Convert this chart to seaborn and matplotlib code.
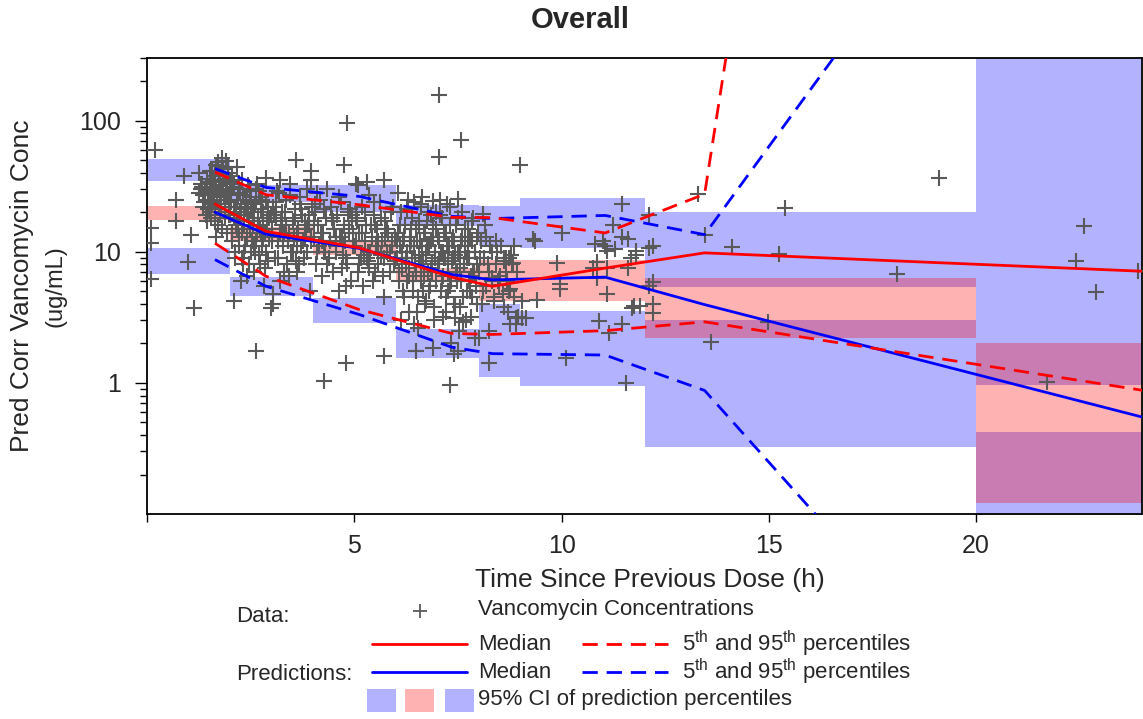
import numpy as np
import pandas as pd
import matplotlib
matplotlib.use("Agg")
import matplotlib.pyplot as plt
import seaborn as sns
from matplotlib.ticker import LogLocator, NullFormatter, FixedLocator, FixedFormatter
from matplotlib.patches import Rectangle

# ---------------- data ----------------
title = "Overall"
x_label = "Time Since Previous Dose (h)"
y_label1 = "Pred Corr Vancomycin Conc"
y_label2 = "(ug/mL)"

# bin edges (h) used for the prediction-interval bands
bin_edges = [0, 2, 4, 6, 8, 9, 12, 20, 24]
# 95% CI of predicted 5th percentile
p05_ci_lo = [6.76, 4.6, 2.86, 1.55, 1.10, 0.944, 0.324, 0.05]
p05_ci_hi = [10.7, 6.4, 4.44, 2.56, 3.98, 3.52, 2.99, 0.423]
# 95% CI of predicted median
med_ci_lo = [17.5, 12.0, 9.5, 5.95, 4.19, 4.19, 2.2, 0.122]
med_ci_hi = [22.2, 15.5, 12.0, 7.5, 8.7, 8.7, 6.35, 2.0]
# 95% CI of predicted 95th percentile
p95_ci_lo = [34.8, 24.0, 20.0, 15.6, 11.0, 10.7, 5.35, 0.96]
p95_ci_hi = [51.2, 32.0, 32.0, 22.9, 22.2, 25.9, 20.1, 1000.0]

# bin midpoints (median time in bin) for the percentile lines
bin_time = [1.64, 2.87, 5.12, 7.35, 8.33, 11.05, 13.45, 24.5]
obs_median = [23.1, 14.3, 10.7, 6.4, 5.45, 7.5, 9.8, 6.99]
obs_p05 = [11.6, 6.5, 3.62, 2.38, 2.34, 2.5, 2.92, 0.83]
obs_p95 = [40.5, 27.2, 22.8, 18.3, 18.2, 13.9, 27.5, 6e23]
pred_median = [20.0, 13.6, 10.6, 6.7, 6.1, 6.4, 3.95, 0.50]
pred_p05 = [8.7, 5.45, 3.32, 1.87, 1.67, 1.63, 0.875, 1.1e-4]
pred_p95 = [43.0, 30.9, 26.4, 18.6, 17.9, 18.9, 13.5, 8.3e5]

# observed concentrations (time, conc)
obs_time = [
    0.20, 0.09, 0.09, 0.09, 0.70, 0.69, 1.05, 1.00, 1.13, 0.90, 1.26, 1.33, 1.66, 1.82, 1.90, 1.57,
    1.25, 1.30, 1.35, 1.40, 1.42, 1.45, 1.48, 1.50, 1.52, 1.55, 1.57, 1.60, 1.62, 1.65, 1.68, 1.70,
    1.72, 1.75, 1.78, 1.80, 1.82, 1.85, 1.88, 1.90, 1.92, 1.95, 1.98, 1.33, 1.44, 1.58, 1.63, 1.73,
    1.83, 1.93, 1.38, 1.53, 1.67, 1.77, 1.87, 1.97, 1.47, 1.61, 1.71, 1.81, 1.91,
    2.02, 2.05, 2.08, 2.10, 2.12, 2.15, 2.18, 2.20, 2.22, 2.25, 2.28, 2.30, 2.32, 2.35, 2.38, 2.40,
    2.42, 2.45, 2.48, 2.50, 2.52, 2.55, 2.58, 2.60, 2.62, 2.65, 2.68, 2.70, 2.72, 2.75, 2.78, 2.80,
    2.82, 2.85, 2.88, 2.90, 2.92, 2.95, 2.98, 2.04, 2.14, 2.24, 2.34, 2.44, 2.54, 2.64, 2.74, 2.84,
    2.94, 2.17, 2.37, 2.57, 2.77, 2.27, 2.67,
    3.02, 3.05, 3.08, 3.12, 3.15, 3.18, 3.22, 3.25, 3.28, 3.32, 3.35, 3.38, 3.42, 3.45, 3.48, 3.52,
    3.55, 3.58, 3.62, 3.65, 3.68, 3.72, 3.75, 3.78, 3.82, 3.85, 3.88, 3.92, 3.95, 3.98, 3.10, 3.30,
    3.50, 3.70, 3.90, 3.20, 3.40, 3.60, 3.80, 3.03,
    4.02, 4.05, 4.08, 4.12, 4.15, 4.18, 4.22, 4.25, 4.28, 4.32, 4.35, 4.38, 4.42, 4.45, 4.48, 4.52,
    4.55, 4.58, 4.62, 4.65, 4.68, 4.72, 4.75, 4.78, 4.82, 4.85, 4.88, 4.92, 4.95, 4.98, 4.10, 4.30,
    4.50, 4.70, 4.90,
    5.02, 5.05, 5.08, 5.12, 5.15, 5.18, 5.22, 5.25, 5.28, 5.32, 5.35, 5.38, 5.42, 5.45, 5.48, 5.52,
    5.55, 5.58, 5.62, 5.65, 5.68, 5.72, 5.75, 5.78, 5.82, 5.85, 5.88, 5.92, 5.95, 5.98, 5.10, 5.30,
    5.50, 5.70, 5.90,
    6.02, 6.05, 6.08, 6.10, 6.12, 6.15, 6.18, 6.20, 6.22, 6.25, 6.28, 6.30, 6.32, 6.35, 6.38, 6.40,
    6.42, 6.45, 6.48, 6.50, 6.52, 6.55, 6.58, 6.60, 6.62, 6.65, 6.68, 6.70, 6.72, 6.75, 6.78, 6.80,
    6.82, 6.85, 6.88, 6.90, 6.92, 6.95, 6.98, 6.06, 6.16, 6.26, 6.36, 6.46, 6.56, 6.66, 6.76, 6.86,
    6.96, 6.44,
    7.02, 7.05, 7.08, 7.10, 7.12, 7.15, 7.18, 7.20, 7.22, 7.25, 7.28, 7.30, 7.32, 7.35, 7.38, 7.40,
    7.42, 7.45, 7.48, 7.50, 7.52, 7.55, 7.58, 7.60, 7.62, 7.65, 7.68, 7.70, 7.72, 7.75, 7.78, 7.80,
    7.82, 7.85, 7.88, 7.90, 7.92, 7.95, 7.98, 7.06, 7.16, 7.26, 7.36, 7.46, 7.56, 7.66, 7.76, 7.86,
    7.96, 7.33,
    8.02, 8.05, 8.08, 8.12, 8.15, 8.18, 8.22, 8.28, 8.32, 8.38, 8.45, 8.52, 8.62, 8.68, 8.72, 8.85,
    8.95, 8.75, 8.10, 8.42, 8.60, 8.80, 8.33, 8.50, 8.75, 9.05, 8.70, 8.90, 8.90, 8.26, 8.67, 8.58, 8.82,
    2.87, 3.59, 3.95, 3.95, 4.76, 4.83, 5.04, 5.31, 5.72, 7.05, 7.05, 7.58, 9.00, 7.50, 6.60, 6.90,
    2.10, 2.62, 3.03, 2.99, 4.28, 4.80, 5.72, 6.49, 7.30, 8.26, 10.10, 11.56, 8.00, 7.40, 7.50, 6.50, 6.90,
    9.35, 10.00, 9.90, 9.40, 9.05, 9.95, 10.85, 11.10, 10.90, 11.45, 11.30, 11.70, 11.80, 11.00, 11.45,
    11.25, 11.46, 11.04, 11.67, 11.60, 11.10, 10.75, 10.85, 9.95, 9.15, 11.15, 11.75, 11.90, 10.80,
    11.60, 11.80, 11.10, 9.30,
    12.10, 12.10, 12.10, 12.20, 12.20, 12.20, 12.20, 13.30, 13.45, 13.60, 14.10, 14.98, 15.25, 15.40,
    18.10, 19.10, 21.70, 22.40, 22.60, 22.90, 23.90,
    # second pass over the dense cloud
    1.51, 1.54, 1.59, 1.64, 1.69, 1.74, 1.79, 1.84, 1.89, 1.94, 1.99, 1.56, 1.66, 1.76, 1.86, 1.96,
    1.46, 1.36, 1.41, 1.31,
    2.01, 2.03, 2.06, 2.09, 2.11, 2.13, 2.16, 2.19, 2.21, 2.23, 2.26, 2.29, 2.31, 2.33, 2.36, 2.39,
    2.41, 2.43, 2.46, 2.49, 2.51, 2.53, 2.56, 2.59, 2.61, 2.63, 2.66, 2.69, 2.71, 2.73, 2.76, 2.79,
    2.81, 2.86, 2.91,
    3.01, 3.06, 3.11, 3.16, 3.21, 3.26, 3.31, 3.36, 3.41, 3.46, 3.51, 3.56, 3.61, 3.66, 3.71, 3.76,
    3.81, 3.86, 3.91, 3.96, 3.13, 3.43, 3.63, 3.83, 3.23,
    4.03, 4.11, 4.19, 4.27, 4.34, 4.41, 4.49, 4.57, 4.64, 4.71, 4.79, 4.87, 4.94, 5.03, 5.11, 5.19,
    5.27, 5.34, 5.41, 5.49, 5.57, 5.64, 5.71, 5.79, 5.87, 5.94, 4.23, 4.47, 4.73, 4.97, 5.23, 5.47,
    5.73, 5.97, 4.06, 4.56, 5.06, 5.56, 4.81, 5.36,
    6.03, 6.07, 6.11, 6.14, 6.17, 6.21, 6.24, 6.27, 6.31, 6.34, 6.37, 6.41, 6.43, 6.47, 6.51, 6.54,
    6.57, 6.61, 6.64, 6.67, 6.71, 6.74, 6.77, 6.81, 6.84, 6.87, 6.91, 6.94, 6.97, 7.01, 7.04, 7.07,
    7.11, 7.14, 7.17, 7.21, 7.24, 7.27, 7.31, 7.34, 7.37, 7.41, 7.44, 7.47, 7.51, 7.54, 7.57, 7.61,
    7.64, 7.67, 7.71, 7.74, 7.77, 7.81, 7.84, 7.87, 7.91, 7.94, 7.97, 6.13, 6.33, 6.53, 6.73, 6.93,
    7.13, 7.43, 7.63, 7.83, 6.63, 7.23,
    8.04, 8.11, 8.17, 8.24, 8.31, 8.36, 8.41, 8.47, 8.54, 8.61, 8.66, 8.73, 8.79, 8.86, 8.93,
]
obs_conc = [
    60, 15.2, 11.7, 6.2, 25, 17.0, 13.5, 8.4, 3.7, 37.6, 39.8, 32.6, 46, 51.5, 49, 41,
    28, 33, 22, 30, 19, 36, 25, 27, 41, 18, 31, 24, 35, 21, 45, 28,
    16, 38, 23, 30, 44, 26, 20, 33, 14, 40, 25, 31, 17, 27, 38, 22,
    43, 29, 24, 34, 13, 26, 36, 19, 21, 29, 48, 15, 27,
    24, 12, 31, 18, 9, 22, 15, 27, 11, 20, 35, 14, 8, 19, 25, 13,
    6.5, 17, 29, 10, 21, 16, 7, 23, 12, 33, 18, 9.5, 15, 26, 11, 20,
    5.5, 14, 24, 17, 8.5, 13, 19, 38, 16, 28, 10, 22, 12, 30, 14, 7.5,
    18, 44, 21, 11, 25, 6, 16,
    15, 22, 9, 18, 12, 28, 6, 16, 11, 20, 25, 8, 14, 33, 10, 17,
    13, 21, 7, 15, 26, 11, 19, 9, 13, 30, 16, 5, 12, 22, 18, 14,
    10, 23, 16, 35, 12, 8.5, 17, 4.8,
    13, 20, 8, 16, 11, 25, 6.5, 14, 10, 18, 30, 9, 12, 22, 7, 15,
    11, 19, 5, 13, 24, 9.5, 16, 12, 8, 20, 14, 6, 17, 11, 28, 10,
    15, 7.5, 21,
    11, 18, 7, 14, 9, 22, 5.5, 12, 16, 8.5, 27, 10, 13, 6, 19, 11,
    15, 8, 24, 9.5, 12, 4.5, 17, 10, 14, 7, 20, 11, 8, 13, 32, 9,
    16, 6.5, 12,
    9, 14, 6, 11, 20, 7.5, 12, 4.5, 16, 8, 10, 25, 6.5, 13, 9, 18,
    5, 11, 7, 15, 3.5, 9.5, 12, 22, 6, 8.5, 14, 4, 10, 17, 7, 11,
    5.5, 19, 8, 13, 3, 9, 15, 28, 10, 6, 12, 8, 16, 5, 11, 7.5,
    20, 2.8,
    8, 12, 5, 10, 18, 6.5, 9, 3.5, 14, 7, 11, 22, 5.5, 8.5, 13, 4,
    9.5, 16, 6, 10, 2.5, 7.5, 12, 20, 4.5, 8, 15, 3, 9, 11, 5, 13,
    6.5, 17, 7, 10, 2.2, 8, 14, 25, 9, 5, 12, 7, 3.8, 10, 6, 18,
    4, 2.0,
    7, 12, 4, 9, 16, 5.5, 8, 11, 6, 4.5, 10, 6.5, 8.5, 6, 9, 11,
    3.2, 2.8, 19.3, 12, 8.9, 8.0, 6.3, 5.6, 5.2, 4.2, 3.5, 3.1, 2.8, 2.48, 8.9, 4.75, 8.2,
    36.4, 50, 41, 35.5, 46, 96, 33, 34, 35.5, 158, 53, 71, 45.5, 25.4, 23, 24.2,
    4.2, 1.74, 3.97, 3.72, 1.04, 1.42, 1.6, 1.74, 0.96, 1.42, 1.55, 1.0, 2.2, 1.65, 1.74, 1.74, 1.84,
    12, 13.9, 8.2, 4.3, 3.1, 5.2, 8.4, 4.75, 2.95, 2.8, 10.4, 3.7, 9.5, 12, 23,
    15.9, 13, 11, 8.95, 7.5, 7.5, 7.5, 6.26, 5.65, 3.1, 2.4, 3.84, 3.84, 11.4,
    12.6, 10.1, 10.1, 12.4,
    19.2, 10.7, 5.45, 4.0, 3.4, 11, 5.9, 27.5, 13.3, 2.05, 10.8, 2.9, 9.6, 21.5,
    6.76, 36.4, 1.02, 8.55, 15.7, 4.94, 7.1,
    # second pass over the dense cloud
    20, 29, 35, 17, 25, 32, 22, 39, 18, 28, 34, 23, 31, 19, 26, 44,
    21, 27, 24, 30,
    19, 28, 14, 33, 22, 10, 25, 17, 30, 13, 21, 9, 27, 16, 11, 23,
    19, 32, 8, 15, 26, 12, 20, 18, 10, 24, 14, 29, 16, 8, 21, 13,
    17, 10, 22,
    12, 19, 24, 9, 14, 20, 7, 16, 12, 27, 10, 18, 14, 8, 21, 12,
    16, 10, 19, 13, 29, 6.5, 11, 15, 17,
    17, 10, 14, 21, 8, 12, 17, 10, 26, 13, 9, 15, 19, 12, 8, 14,
    20, 10, 16, 7, 12, 18, 9, 15, 10, 22, 12, 18, 11, 14, 9.5, 24,
    13, 8.5, 23, 13, 17, 11, 5.5, 7.5,
    12, 7, 16, 10, 5, 13, 9, 21, 7.5, 11, 15, 6, 24, 9, 12, 4.5,
    17, 8, 11, 6.5, 14, 9.5, 20, 5, 12, 7, 16, 10, 6, 13, 8.5, 19,
    6, 10, 14, 4.5, 11, 8, 16, 6, 9, 12, 4, 7, 18, 10, 6, 13,
    8, 11, 5, 15, 9, 3.2, 12, 7, 10, 5.5, 13, 3, 3.5, 2.6, 4.2, 3.8,
    3.2, 3.1, 2.9, 4.5, 26, 23,
    9, 5, 13, 7, 10, 4.2, 8, 6, 11, 3.8, 7, 5, 9.5, 4.5, 7,
]

# ---------------- figure ----------------
W, H = 1143, 719
sns.set_theme(style="ticks")
plt.rcParams["font.family"] = ["Liberation Sans", "DejaVu Sans"]
plt.rcParams["mathtext.fontset"] = "custom"
plt.rcParams["mathtext.rm"] = "Liberation Sans"
plt.rcParams["mathtext.it"] = "Liberation Sans:italic"

fig = plt.figure(figsize=(W / 100, H / 100), dpi=100)
fig.patch.set_facecolor("white")
ax = fig.add_axes([147 / W, 1 - 514 / H, (1142 - 147) / W, (514 - 58) / H])
ax.set_facecolor("white")

RED, BLUE = "#FF0000", "#0000FF"

# bands: blue first, then pink
for i in range(len(bin_edges) - 1):
    xs = [bin_edges[i], bin_edges[i + 1]]
    ax.fill_between(xs, p05_ci_lo[i], p05_ci_hi[i], color=BLUE, alpha=0.3, lw=0, zorder=1)
    ax.fill_between(xs, p95_ci_lo[i], p95_ci_hi[i], color=BLUE, alpha=0.3, lw=0, zorder=1)
for i in range(len(bin_edges) - 1):
    xs = [bin_edges[i], bin_edges[i + 1]]
    ax.fill_between(xs, med_ci_lo[i], med_ci_hi[i], color=RED, alpha=0.3, lw=0, zorder=2)

df_obs = pd.DataFrame({"time": obs_time, "conc": obs_conc})
sns.scatterplot(data=df_obs, x="time", y="conc", marker="+", s=125, color="#595959",
                linewidth=1.5, ax=ax, zorder=3, legend=False)

dash = (0, (5.5, 3.2))
lines = [
    (pred_median, BLUE, "-"), (pred_p05, BLUE, dash), (pred_p95, BLUE, dash),
    (obs_median, RED, "-"), (obs_p05, RED, dash), (obs_p95, RED, dash),
]
for vals, col, ls in lines:
    sns.lineplot(x=bin_time, y=vals, color=col, linestyle=ls, linewidth=2.0,
                 ax=ax, zorder=4, sort=False, estimator=None)

ax.set_yscale("log")
ax.set_xlim(0, 24)
ax.set_ylim(0.1, 300)
ax.set_xlabel("")
ax.set_ylabel("")

ax.xaxis.set_major_locator(FixedLocator([0, 5, 10, 15, 20]))
ax.xaxis.set_major_formatter(FixedFormatter(["", "5", "10", "15", "20"]))
ax.yaxis.set_major_locator(FixedLocator([1, 10, 100]))
ax.yaxis.set_major_formatter(FixedFormatter(["1", "10", "100"]))
ax.yaxis.set_minor_locator(LogLocator(base=10, subs=np.arange(2, 10)))
ax.yaxis.set_minor_formatter(NullFormatter())
ax.tick_params(axis="x", which="major", length=5.5, width=1.0, pad=9, labelsize=18, color="black")
ax.tick_params(axis="y", which="major", length=8.5, width=1.0, pad=10, labelsize=18, color="black")
ax.tick_params(axis="y", which="minor", length=5, width=1.0, color="black")
for sp in ax.spines.values():
    sp.set_visible(True)
    sp.set_color("black")
    sp.set_linewidth(1.3)

fig.text(580 / W, 1 - 20 / H, title, ha="center", va="center", fontsize=21, fontweight="bold")
fig.text(650 / W, 1 - 580 / H, x_label, ha="center", va="center", fontsize=19)
fig.text(22 / W, 1 - 286 / H, y_label1, ha="center", va="center", rotation=90, fontsize=19)
fig.text(56 / W, 1 - 286 / H, y_label2, ha="center", va="center", rotation=90, fontsize=17)

# ---------------- legend (pixel layout) ----------------
lax = fig.add_axes([0, 0, 1, 1], zorder=10)
lax.set_xlim(0, W)
lax.set_ylim(H, 0)
lax.axis("off")
fs = 16
lax.text(236, 616, "Data:", ha="left", va="center", fontsize=fs)
lax.plot([420], [611], marker="+", ms=10, mew=1.3, color="#595959", ls="none")
lax.text(478, 609, "Vancomycin Concentrations", ha="left", va="center", fontsize=fs)
sup = "5$^{\\rm th}$ and 95$^{\\rm th}$ percentiles"
for yy, col in [(644, RED), (672, BLUE)]:
    lax.plot([372, 467], [yy, yy], color=col, lw=2.0)
    lax.text(478, yy, "Median", ha="left", va="center", fontsize=fs)
    lax.plot([582, 668], [yy, yy], color=col, lw=2.0, ls=dash)
    lax.text(682, yy, sup, ha="left", va="center", fontsize=fs)
lax.text(236, 674, "Predictions:", ha="left", va="center", fontsize=fs)
for x0, col in [(367, BLUE), (405, RED), (445, BLUE)]:
    lax.add_patch(Rectangle((x0, 689), 29, 23, facecolor=col, alpha=0.3, lw=0))
lax.text(478, 700, "95% CI of prediction percentiles", ha="left", va="center", fontsize=fs)

fig.savefig("out.png", dpi=100)
